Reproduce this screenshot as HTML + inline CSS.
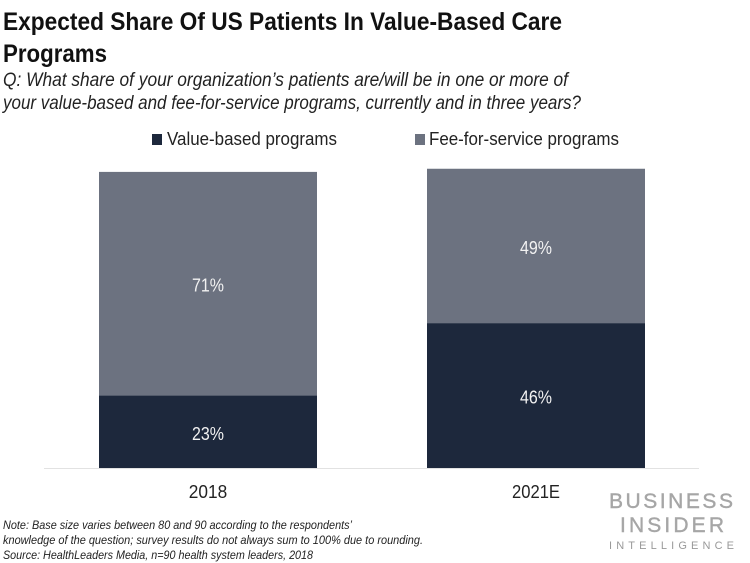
<!DOCTYPE html>
<html lang="en">
<head>
<meta charset="utf-8">
<title>Expected Share Of US Patients In Value-Based Care Programs</title>
<style>
html,body{margin:0;padding:0;background:#fff;width:750px;height:563px;overflow:hidden}
svg{display:block}
text{font-family:"Liberation Sans",sans-serif}
</style>
</head>
<body>
<svg id="chart" width="750" height="563" viewBox="0 0 750 563" xmlns="http://www.w3.org/2000/svg">
  <text x="3" y="30" font-size="25" font-weight="700" fill="#111" textLength="559" lengthAdjust="spacingAndGlyphs">Expected Share Of US Patients In Value-Based Care</text>
  <text x="3" y="62" font-size="25" font-weight="700" fill="#111" textLength="104" lengthAdjust="spacingAndGlyphs">Programs</text>
  <text x="3" y="86" font-size="19" font-style="italic" fill="#222" textLength="565" lengthAdjust="spacingAndGlyphs">Q: What share of your organization’s patients are/will be in one or more of</text>
  <text x="3" y="109" font-size="19" font-style="italic" fill="#222" textLength="578" lengthAdjust="spacingAndGlyphs">your value-based and fee-for-service programs, currently and in three years?</text>

  <g>
    <g>
      <rect x="152" y="134" width="10" height="11" fill="#1d283c"/>
      <text x="167" y="145" font-size="18.5" fill="#222" textLength="170" lengthAdjust="spacingAndGlyphs">Value-based programs</text>
    </g>
    <g>
      <rect x="415" y="134" width="10" height="11" fill="#6c7280"/>
      <text x="429" y="145" font-size="18.5" fill="#222" textLength="190" lengthAdjust="spacingAndGlyphs">Fee-for-service programs</text>
    </g>
  </g>

  <g id="marks"></g>
  <line x1="44" x2="699" y1="468.5" y2="468.5" stroke="#e2e2e2" stroke-width="1"/>
  <g id="x-labels"></g>

  <g>
    <text x="3" y="529" font-size="12" font-style="italic" fill="#222" textLength="349" lengthAdjust="spacingAndGlyphs">Note: Base size varies between 80 and 90 according to the respondents’</text>
    <text x="3" y="544" font-size="12" font-style="italic" fill="#222" textLength="420" lengthAdjust="spacingAndGlyphs">knowledge of the question; survey results do not always sum to 100% due to rounding.</text>
    <text x="3" y="559" font-size="12" font-style="italic" fill="#222" textLength="310" lengthAdjust="spacingAndGlyphs">Source: HealthLeaders Media, n=90 health system leaders, 2018</text>
  </g>

  <g fill="#a6a6a6" stroke="#a6a6a6" stroke-width="0.4">
    <text x="609" y="508" font-size="21" textLength="124" lengthAdjust="spacing">BUSINESS</text>
    <text x="620" y="532" font-size="21" textLength="104" lengthAdjust="spacing">INSIDER</text>
    <text x="609" y="549" font-size="11" textLength="125" lengthAdjust="spacing" stroke-width="0" fill="#999">INTELLIGENCE</text>
  </g>
</svg>
<script>
const categories = ['2018', '2021E'];
const valueBased = [23, 46];
const feeForService = [71, 49];
const valueBasedLabels = ['23%', '46%'];
const feeForServiceLabels = ['71%', '49%'];

const SVG_NS = 'http://www.w3.org/2000/svg';
const plotBottom = 468;
const pxPerUnit = 3.15;
const firstBarLeft = 99;
const barStep = 328;
const barWidth = 218;

function yScale(v) { return plotBottom - v * pxPerUnit; }
function xScale(i) { return firstBarLeft + i * barStep; }

const marks = document.getElementById('marks');
const xLabels = document.getElementById('x-labels');

function addRect(x, y0, y1, fill, name) {
  const r = document.createElementNS(SVG_NS, 'rect');
  r.setAttribute('x', x);
  r.setAttribute('y', y1);
  r.setAttribute('width', barWidth);
  r.setAttribute('height', y0 - y1);
  r.setAttribute('fill', fill);
  
  
  marks.appendChild(r);
}

function addText(parent, x, y, str, size, fill, name, len) {
  const t = document.createElementNS(SVG_NS, 'text');
  t.setAttribute('x', x);
  t.setAttribute('y', y);
  t.setAttribute('text-anchor', 'middle');
  t.setAttribute('font-size', size);
  t.setAttribute('fill', fill);
  t.setAttribute('textLength', len);
  t.setAttribute('lengthAdjust', 'spacingAndGlyphs');
  
  
  t.textContent = str;
  parent.appendChild(t);
}

categories.forEach(function (cat, i) {
  const x = xScale(i);
  const cx = x + barWidth / 2;
  const y0 = yScale(0);
  const y1 = yScale(valueBased[i]);
  const y2 = yScale(valueBased[i] + feeForService[i]);
  addRect(x, y0, y1, '#1d283c', 'bar-value-based-' + cat);
  addRect(x, y1, y2, '#6c7280', 'bar-fee-for-service-' + cat);
  addText(marks, cx, (y0 + y1) / 2 + 8, valueBasedLabels[i], 18, '#f2f2f2', 'value-label-value-based-' + cat, 32);
  addText(marks, cx, (y1 + y2) / 2 + 8, feeForServiceLabels[i], 18, '#f2f2f2', 'value-label-fee-for-service-' + cat, 32);
  addText(xLabels, cx, 498, cat, 18, '#222', 'x-axis-label-' + cat, cat.length * 9.6);
});
</script>
</body>
</html>
